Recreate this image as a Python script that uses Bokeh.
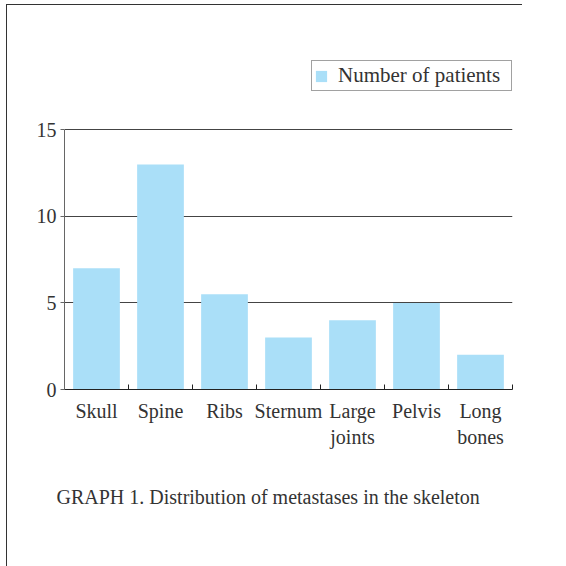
from bokeh.plotting import figure
from bokeh.models import (Range1d, FixedTicker, Legend, LegendItem, Title, ColumnDataSource)
from bokeh.embed import file_html
from bokeh.resources import INLINE

categories = ["Skull", "Spine", "Ribs", "Sternum", "Large\njoints", "Pelvis", "Long\nbones"]
patients = [7, 13, 5.5, 3, 4, 5, 2]
y_ticks = [0, 5, 10, 15]
series_name = "Number of patients"
caption = "GRAPH 1. Distribution of metastases in the skeleton"

FONT = "Liberation Serif"
TXT = "#333333"
BAR = "#aadff8"

centers = [i + 0.5 for i in range(len(categories))]
bounds = list(range(len(categories) + 1))
src = ColumnDataSource(dict(x=centers, y=patients, name=categories))

p = figure(frame_width=448, frame_height=329, width=515, height=561,
           min_border_left=57, min_border_right=10, min_border_top=55, min_border_bottom=177,
           x_range=Range1d(0, len(categories)), y_range=Range1d(0, 19),
           output_backend="svg", toolbar_location=None)
p.styles = {"border-left": "1px solid #333", "border-top": "1px solid #333",
            "margin-left": "6px", "margin-top": "4px"}

r = p.vbar(x="x", top="y", width=0.73, source=src, fill_color=BAR, line_color=None)

p.outline_line_color = None
p.background_fill_color = "white"
p.border_fill_color = "white"

# x axis
xa = p.xaxis[0]
xa.ticker = FixedTicker(ticks=centers, minor_ticks=bounds)
xa.major_label_overrides = {c: lab for c, lab in zip(centers, categories)}
xa.major_tick_line_color = None
xa.major_tick_in = 0
xa.major_tick_out = 0
xa.minor_tick_in = 5
xa.minor_tick_out = 0
xa.minor_tick_line_color = "#222222"
xa.axis_line_color = "#222222"
xa.major_label_text_font = FONT
xa.major_label_text_font_size = "20px"
xa.major_label_text_color = TXT
xa.major_label_standoff = 10
p.xgrid.visible = False

# y axis
ya = p.yaxis[0]
ya.ticker = FixedTicker(ticks=y_ticks)
ya.bounds = (0, 15)
ya.axis_line_color = "#666666"
ya.major_tick_line_color = "#666666"
ya.major_tick_in = 0
ya.major_tick_out = 4
ya.minor_tick_line_color = None
ya.major_label_text_font = FONT
ya.major_label_text_font_size = "20px"
ya.major_label_text_color = TXT
ya.major_label_standoff = 4
p.ygrid.ticker = FixedTicker(ticks=y_ticks[1:])
p.ygrid.grid_line_color = "#444444"
p.ygrid.grid_line_width = 1

legend = Legend(items=[LegendItem(label=series_name, renderers=[r])],
                location="top_right", margin=0, padding=2, spacing=0,
                glyph_width=14, glyph_height=14, label_standoff=10, label_width=171,
                label_text_font=FONT, label_text_font_size="21px", label_text_color=TXT,
                border_line_color="#444444", border_line_width=1,
                background_fill_color="white", background_fill_alpha=1)
p.add_layout(legend)

t = Title(text=caption, text_font=FONT, text_font_size="20px", text_font_style="normal",
          text_color=TXT, align="left", offset=-8, standoff=67)
p.add_layout(t, "below")

open("out.html", "w").write(file_html(p, INLINE))
